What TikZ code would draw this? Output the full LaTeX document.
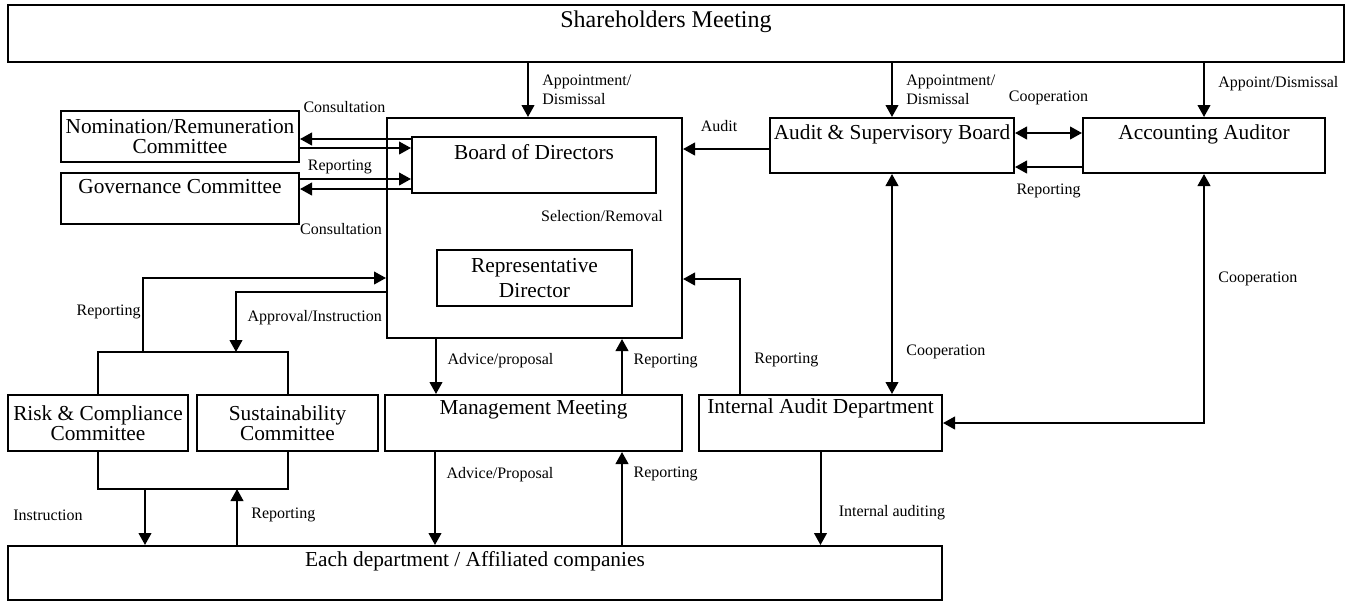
\documentclass[tikz,border=0pt]{standalone}
\usepackage{fontspec}
\setmainfont{Liberation Serif}
\usetikzlibrary{arrows.meta, calc, positioning}
\newcommand{\pxl}{0.75pt}
\tikzset{every picture/.style={line width=1.5pt}}
\tikzset{
  box/.style={draw, inner sep=0pt, anchor=north west, align=center, font=\fontsize{16}{15}\selectfont},
  boxtext/.style={inner sep=0pt, font=\fontsize{16}{18}\selectfont},
  lab/.style={inner sep=0pt, align=left, font=\fontsize{12}{14}\selectfont},
  arr/.style={-{Triangle[length=9pt,width=9.5pt]}},
  darr/.style={{Triangle[length=9pt,width=9.5pt]}-{Triangle[length=9pt,width=9.5pt]}},
}

\begin{document}
\begin{tikzpicture}[x=0.75pt, y=-0.75pt]
\useasboundingbox (0,0) rectangle (1349,601);

% boxes
\node[box, minimum width=1336*\pxl, minimum height=57*\pxl] (share) at (7,4) {};
\node[box, minimum width=295*\pxl, minimum height=220*\pxl] (bodout) at (386,117) {};
\node[box, minimum width=244*\pxl, minimum height=56*\pxl] (bod) at (411,136) {};
\node[box, minimum width=195*\pxl, minimum height=56*\pxl, font=\fontsize{16}{18.5}\selectfont] (rep) at (436,249) {Representative\\Director};
\node[box, minimum width=238*\pxl, minimum height=51*\pxl] (nrc) at (60,110) {Nomination/Remuneration\\Committee};
\node[box, minimum width=238*\pxl, minimum height=51*\pxl] (gov) at (60,172) {};
\node[box, minimum width=180*\pxl, minimum height=56*\pxl] (risk) at (7,394) {Risk \& Compliance\\Committee};
\node[box, minimum width=181*\pxl, minimum height=56*\pxl] (sus) at (196,394) {Sustainability\\Committee};
\node[box, minimum width=297*\pxl, minimum height=56*\pxl] (mgmt) at (384,394) {};
\node[box, minimum width=243*\pxl, minimum height=56*\pxl] (iad) at (698,394) {};
\node[box, minimum width=244*\pxl, minimum height=55*\pxl] (asb) at (769,117) {};
\node[box, minimum width=242*\pxl, minimum height=55*\pxl] (aa) at (1082,117) {};
\node[box, minimum width=934*\pxl, minimum height=54*\pxl] (dept) at (7,545) {};

% texts at the top of the boxes
\node[boxtext, font=\fontsize{18}{22}\selectfont] (share-t) at ($(share.north)+(-10,18)$) {Shareholders Meeting};
\node[boxtext] (bod-t) at ($(bod.north)+(0,16)$) {Board of Directors};
\node[boxtext] (gov-t) at ($(gov.north)+(0,15)$) {Governance Committee};
\node[boxtext] (mgmt-t) at ($(mgmt.north)+(0,16)$) {Management Meeting};
\node[boxtext] (iad-t) at ($(iad.north)+(0,14)$) {Internal Audit Department};
\node[boxtext] (asb-t) at ($(asb.north)+(0,17)$) {Audit \& Supervisory Board};
\node[boxtext] (aa-t) at ($(aa.north)+(0,17)$) {Accounting Auditor};
\node[boxtext] (dept-t) at ($(dept.north)+(0,16)$) {Each department / Affiliated companies};
\node[lab] (selrem) at (602,216) {Selection/Removal};

% shareholders meeting
\coordinate (a1) at ($(bodout.north west)+(142,0)$);
\draw[arr] (a1 |- share.south) -- node[lab, right=10pt]{Appointment/\\Dismissal} (a1);
\draw[arr] (share.south -| asb.north) -- node[lab, right=10pt]{Appointment/\\Dismissal} (asb.north);
\draw[arr] (share.south -| aa.north) -- node[lab, pos=.38, right=10pt]{Appoint/Dismissal} (aa.north);

% committees and board
\draw[arr] ($(bod.north west)+(0,3)$) coordinate (c1) -- node[lab, pos=.6, above=19pt]{Consultation} (c1 -| nrc.east);
\draw[arr] ($(nrc.east)+(0,11.5)$) coordinate (c2) -- node[lab, pos=.36, below=8pt]{Reporting} (c2 -| bod.west);
\draw[arr] ($(gov.north east)+(0,7)$) coordinate (c3) -- (c3 -| bod.west);
\draw[arr] ($(bod.south west)+(0,-5)$) coordinate (c4) -- node[lab, pos=.63, below=25pt]{Consultation} (c4 -| gov.east);

% audit
\draw[arr] ($(asb.west)+(0,3.5)$) coordinate (c5) -- node[lab, pos=.58, above=12pt]{Audit} (c5 -| bodout.east);
\draw[darr] ($(asb.east)+(0,-12.5)$) coordinate (c6) -- node[lab, above=20pt]{Cooperation} (c6 -| aa.west);
\draw[arr] ($(aa.west)+(0,21.5)$) coordinate (c7) -- node[lab, below=12pt]{Reporting} (c7 -| asb.east);
\draw[darr] (asb.south) -- node[lab, pos=.81, right=10pt]{Cooperation} (asb.south |- iad.north);
\draw[darr] (aa.south) |- node[lab, pos=.21, right=10pt]{Cooperation} (iad.east);
\draw[arr] ($(iad.north west)+(42,0)$) |- node[lab, pos=.15, right=10pt]{Reporting} ($(bodout.east)+(0,51)$);

% management
\draw[arr] ($(bodout.south west)+(50,0)$) coordinate (m1) -- node[lab, pos=.4, right=8pt]{Advice/proposal} (m1 |- mgmt.north);
\draw[arr] ($(mgmt.north west)+(238,0)$) coordinate (m2) -- node[lab, pos=.6, right=8pt]{Reporting} (m2 |- bodout.south);
\draw[arr] ($(mgmt.south west)+(51,0)$) coordinate (m3) -- node[lab, pos=.24, right=8pt]{Advice/Proposal} (m3 |- dept.north);
\coordinate (m4) at ($(mgmt.south west)+(238,0)$);
\draw[arr] (m4 |- dept.north) -- node[lab, pos=.76, right=8pt]{Reporting} (m4);
\draw[arr] (iad.south) -- node[lab, pos=.65, right=13pt]{Internal auditing} (iad.south |- dept.north);

% risk and sustainability committees
\draw (risk.north) -- ++(0,-42) coordinate (t1) -- (t1 -| sus.north) -- (sus.north);
\draw[arr] ($(t1)+(45,0)$) |- node[lab, pos=.27, left=1pt]{Reporting} ($(bodout.west)+(0,50)$);
\draw[arr] ($(bodout.west)+(0,64)$) -| node[lab, pos=.71, right=8pt]{Approval/Instruction} ($(t1)+(138,0)$);
\draw (risk.south) -- ++(0,37) coordinate (b1) -- (b1 -| sus.south) -- (sus.south);
\draw[arr] ($(b1)+(47,0)$) coordinate (b2) -- node[lab, pos=.47, left=46pt]{Instruction} (b2 |- dept.north);
\coordinate (b3) at ($(b1)+(139,0)$);
\draw[arr] (b3 |- dept.north) -- node[lab, pos=.53, right=10pt]{Reporting} (b3);

\end{tikzpicture}
\end{document}
